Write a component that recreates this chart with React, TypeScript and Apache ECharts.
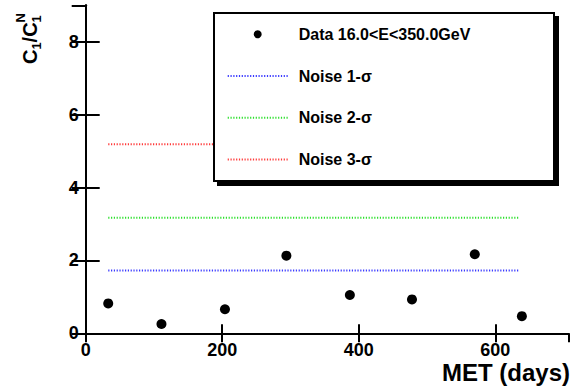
import React, { useEffect, useRef } from "react";
import * as echarts from "echarts";

const X_DAYS = [33, 111, 204, 294, 387, 478, 570, 639];
const C1_RATIO = [0.82, 0.255, 0.66, 2.13, 1.05, 0.93, 2.17, 0.47];
const NOISE_X = [33, 636];
const NOISE_1 = [1.72, 1.72];
const NOISE_2 = [3.17, 3.17];
const NOISE_3 = [5.19, 5.19];
const SERIES_NAMES = ["Data 16.0<E<350.0GeV", "Noise 1-σ", "Noise 2-σ", "Noise 3-σ"];
const X_RANGE = [0, 707];
const Y_RANGE = [0, 9];

const FONT = "'Liberation Sans', Arial, Helvetica, sans-serif";

export default function App() {
  const ref = useRef<HTMLDivElement>(null);
  useEffect(() => {
    if (!ref.current) return;
    const chart = echarts.init(ref.current, null, { renderer: "svg" });
    const tickLabel = {
      fontSize: 18,
      fontWeight: "bold" as const,
      color: "#000",
      fontFamily: FONT,
    };
    const lineAxis = { show: true, lineStyle: { color: "#000", width: 2 } };
    const toPairs = (xs: number[], ys: number[]) => xs.map((x, i) => [x, ys[i]]);
    const noise = (name: string, ys: number[], color: string) => ({
      type: "line" as const,
      name,
      data: toPairs(NOISE_X, ys),
      symbol: "none",
      lineStyle: { color, width: 2, type: [1.2, 1.6] },
      itemStyle: { color },
      z: 2,
    });
    const hiddenSymbol = { color: "transparent", opacity: 0, borderWidth: 0 };
    const sub = (text: string, x: number, y: number, size: number) => ({
      type: "text",
      x,
      y,
      style: { text, fontSize: size, fontWeight: "bold", fontFamily: FONT, fill: "#000", verticalAlign: "middle" },
    });
    chart.setOption({
      animation: false,
      backgroundColor: "#fff",
      grid: { left: 85.7, right: 10.7, top: 5.3, bottom: 58.7, containLabel: false },
      xAxis: [
        {
          type: "value",
          min: X_RANGE[0],
          max: X_RANGE[1],
          interval: 200,
          position: "bottom",
          axisLine: lineAxis,
          axisTick: { show: true, inside: true, length: 9, lineStyle: { color: "#000", width: 2 } },
          axisLabel: { ...tickLabel, margin: 8, showMaxLabel: false },
          splitLine: { show: false },
        },
        {
          type: "value",
          min: X_RANGE[0],
          max: X_RANGE[1],
          interval: 200,
          position: "top",
          axisLine: lineAxis,
          axisTick: { show: true, inside: true, length: 9, lineStyle: { color: "#000", width: 2 } },
          axisLabel: { show: false },
          splitLine: { show: false },
        },
      ],
      yAxis: [
        {
          type: "value",
          min: Y_RANGE[0],
          max: Y_RANGE[1],
          interval: 2,
          position: "left",
          axisLine: lineAxis,
          axisTick: { show: true, inside: true, length: 14, lineStyle: { color: "#000", width: 2 } },
          axisLabel: { ...tickLabel, margin: 7, showMaxLabel: false },
          splitLine: { show: false },
        },
        {
          type: "value",
          min: Y_RANGE[0],
          max: Y_RANGE[1],
          interval: 2,
          position: "right",
          axisLine: lineAxis,
          axisTick: { show: true, inside: true, length: 14, lineStyle: { color: "#000", width: 2 } },
          axisLabel: { show: false },
          splitLine: { show: false },
        },
      ],
      legend: {
        orient: "vertical",
        left: 226.7,
        top: 24.3,
        padding: 0,
        itemWidth: 60,
        itemHeight: 8,
        itemGap: 21.7,
        z: 20,
        data: [
          { name: SERIES_NAMES[0], icon: "circle", itemStyle: { color: "#000" } },
          { name: SERIES_NAMES[1], itemStyle: hiddenSymbol },
          { name: SERIES_NAMES[2], itemStyle: hiddenSymbol },
          { name: SERIES_NAMES[3], itemStyle: hiddenSymbol },
        ],
        textStyle: {
          fontSize: 16,
          fontWeight: "bold",
          color: "#000",
          fontFamily: FONT,
          lineHeight: 20,
          padding: [0, 0, 0, 6],
        },
        selectedMode: false,
      },
      series: [
        {
          type: "scatter",
          name: SERIES_NAMES[0],
          data: toPairs(X_DAYS, C1_RATIO),
          symbol: "circle",
          symbolSize: 10,
          itemStyle: { color: "#000", opacity: 1 },
          z: 3,
        },
        noise(SERIES_NAMES[1], NOISE_1, "#3a3aff"),
        noise(SERIES_NAMES[2], NOISE_2, "#2ee02e"),
        noise(SERIES_NAMES[3], NOISE_3, "#ff3a3a"),
      ],
      graphic: [
        {
          type: "rect",
          z: 10,
          shape: { x: 217, y: 16, width: 342, height: 170 },
          style: { fill: "#000" },
          silent: true,
        },
        {
          type: "rect",
          z: 11,
          shape: { x: 214, y: 13, width: 340, height: 168 },
          style: { fill: "#fff", stroke: "#000", lineWidth: 2 },
          silent: true,
        },
        {
          type: "text",
          z: 12,
          x: 570,
          y: 384,
          style: {
            text: "MET (days)",
            fontSize: 24,
            fontWeight: "bold",
            fontFamily: FONT,
            fill: "#000",
            align: "right",
            verticalAlign: "bottom",
          },
        },
        {
          type: "group",
          x: 29.5,
          y: 64,
          rotation: Math.PI / 2,
          z: 12,
          children: [
            sub("C", 0, 0, 20),
            sub("1", 14.4, 6.5, 13),
            sub("/", 21.6, 0, 20),
            sub("C", 27.2, 0, 20),
            sub("1", 41.6, 6.5, 13),
            sub("N", 41.6, -9, 13),
          ],
        },
      ],
    });
    return () => chart.dispose();
  }, []);
  return <div ref={ref} style={{ width: 579, height: 392, position: "absolute", left: 0, top: 0 }} />;
}
